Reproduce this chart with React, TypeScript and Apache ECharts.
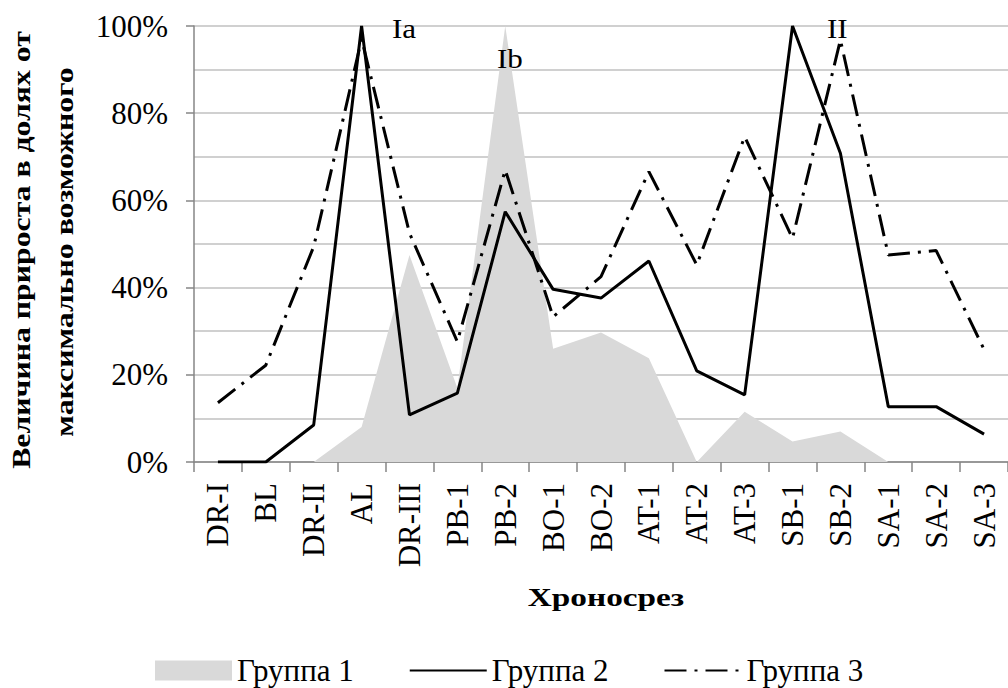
import React, { useEffect, useRef } from 'react';
import * as echarts from 'echarts';

const categories = ['DR-I', 'BL', 'DR-II', 'AL', 'DR-III', 'PB-1', 'PB-2', 'BO-1', 'BO-2', 'AT-1', 'AT-2', 'AT-3', 'SB-1', 'SB-2', 'SA-1', 'SA-2', 'SA-3'];
const group1 = [0, 0, 0, 8, 47.5, 17, 100, 26, 29.7, 23.8, 0, 11.5, 4.7, 7, 0, 0, 0];
const group2 = [0, 0, 8.5, 100, 10.8, 15.8, 57.4, 39.6, 37.6, 46.1, 20.9, 15.4, 100, 70.8, 12.7, 12.7, 6.4];
const group3 = [13.6, 22.2, 49.4, 97, 52.5, 27.6, 67, 33.3, 42.5, 66.6, 45.2, 74.6, 51.3, 96.8, 47.5, 48.5, 25.8];
const seriesNames = ['Группа 1', 'Группа 2', 'Группа 3'];
const yTitleLines = ['Величина прироста в долях от', 'максимально возможного'];
const xTitle = 'Хроносрез';
const peakLabels = ['Ia', 'Ib', 'II'];

const FONT = "Liberation Serif";

function txt(text: string, x: number, y: number, size: number, bold: boolean, opts: any = {}) {
  return {
    type: 'text',
    x,
    y,
    z: 100,
    zlevel: 0,
    rotation: opts.rotation || 0,
    scaleX: opts.scaleX || 1,
    style: {
      text,
      fontFamily: FONT,
      fontSize: size,
      fontWeight: bold ? 'bold' : 'normal',
      fill: '#000',
      textAlign: opts.align || 'center',
      textVerticalAlign: 'middle',
    },
  };
}

export default function App() {
  const ref = useRef<HTMLDivElement>(null);
  useEffect(() => {
    const chart = echarts.init(ref.current!, null, { renderer: 'svg' });
    chart.setOption({
      animation: false,
      backgroundColor: '#ffffff',
      textStyle: { fontFamily: FONT },
      grid: { left: 194, top: 26, width: 825, height: 436, containLabel: false },
      xAxis: {
        type: 'category',
        data: categories,
        boundaryGap: true,
        axisLine: { lineStyle: { color: '#868686', width: 1.5 } },
        axisTick: { show: true, length: 10, lineStyle: { color: '#868686', width: 1.5 } },
        axisLabel: { rotate: 90, fontSize: 31, color: '#000', fontFamily: FONT, margin: 21, interval: 0 },
        splitLine: { show: false },
      },
      yAxis: {
        type: 'value',
        min: 0,
        max: 100,
        interval: 20,
        axisLine: { show: true, lineStyle: { color: '#868686', width: 1.5 } },
        axisTick: { show: true, length: 8, lineStyle: { color: '#868686', width: 1.5 } },
        axisLabel: { formatter: '{value}%', fontSize: 31, color: '#000', fontFamily: FONT, margin: 26 },
        splitLine: { show: true, lineStyle: { color: '#c0c0c0', width: 1.5 } },
        minorTick: { show: false, splitNumber: 2 },
        minorSplitLine: { show: true, lineStyle: { color: '#c0c0c0', width: 1.5 } },
      },
      legend: {
        data: [
          { name: seriesNames[0], icon: 'rect' },
          { name: seriesNames[1], itemStyle: { opacity: 0 } },
          { name: seriesNames[2], itemStyle: { opacity: 0 } },
        ],
        left: 155,
        top: 655,
        padding: 0,
        itemWidth: 77,
        itemHeight: 20,
        itemGap: 55,
        textStyle: { fontSize: 31, color: '#000', fontFamily: FONT },
      },
      series: [
        {
          name: seriesNames[0],
          type: 'line',
          data: group1,
          symbol: 'none',
          lineStyle: { width: 0, color: '#d9d9d9' },
          itemStyle: { color: '#d9d9d9' },
          areaStyle: { color: '#d9d9d9', opacity: 1 },
          z: 1,
        },
        {
          name: seriesNames[2],
          type: 'line',
          data: group3,
          symbol: 'none',
          itemStyle: { color: '#000' },
          lineStyle: { color: '#000', width: 3, type: [22, 8, 3, 8] },
          z: 2,
        },
        {
          name: seriesNames[1],
          type: 'line',
          data: group2,
          symbol: 'none',
          itemStyle: { color: '#000' },
          lineStyle: { color: '#000', width: 3 },
          z: 3,
        },
      ],
      graphic: [
        txt(yTitleLines[0], 22, 250, 25, true, { rotation: Math.PI / 2, scaleX: 1.27 }),
        txt(yTitleLines[1], 65, 252, 25, true, { rotation: Math.PI / 2, scaleX: 1.27 }),
        txt(xTitle, 606, 597, 26, true, { scaleX: 1.28 }),
        txt(peakLabels[0], 392, 29, 27, false, { align: 'left', scaleX: 1.15 }),
        txt(peakLabels[1], 497, 59, 27, false, { align: 'left', scaleX: 1.15 }),
        txt(peakLabels[2], 827, 29, 27, false, { align: 'left', scaleX: 1.15 }),
      ],
    });
    return () => chart.dispose();
  }, []);
  return <div ref={ref} style={{ position: 'absolute', left: 0, top: 0, width: 1008, height: 688, background: '#fff' }} />;
}
